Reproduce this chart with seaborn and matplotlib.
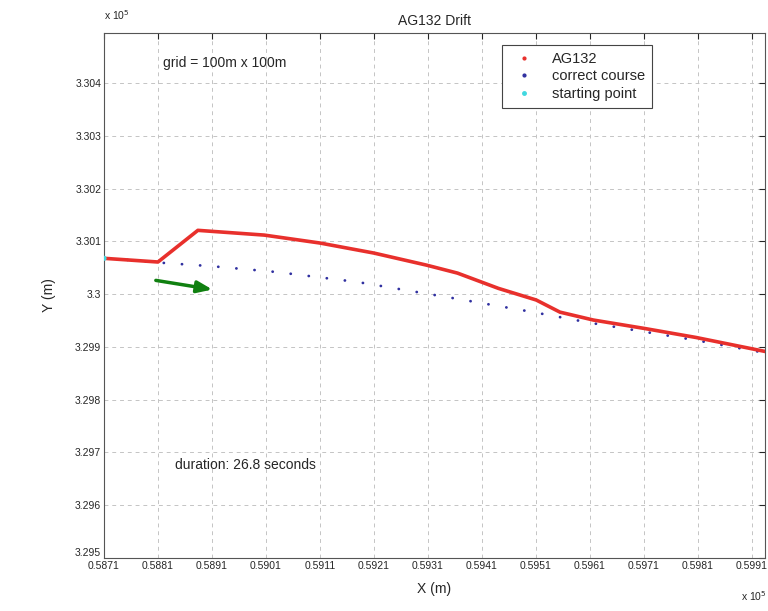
import numpy as np
import pandas as pd
import seaborn as sns
import matplotlib.pyplot as plt
from matplotlib.lines import Line2D

# drift track of AG132 (x10^5 m)
track_x = [0.5871, 0.5881, 0.58884, 0.59007, 0.5911, 0.5921, 0.59308, 0.59365,
           0.59441, 0.59511, 0.59555, 0.59617, 0.59712, 0.59807, 0.59952]
track_y = [3.30068, 3.30061, 3.30121, 3.30112, 3.30097, 3.30078, 3.30055, 3.3004,
           3.30011, 3.29989, 3.29966, 3.29951, 3.29935, 3.29918, 3.29888]

# intended course
course_x = [0.5872, 0.5881, 0.5891, 0.5903, 0.5918, 0.5936, 0.5950, 0.5961,
            0.5971, 0.5980, 0.59945]
course_y = [3.30068, 3.3006, 3.30053, 3.30042, 3.30023, 3.29992, 3.29967,
            3.29946, 3.29929, 3.29914, 3.29887]

start_x = [0.5871]
start_y = [3.30068]

xticks = [0.5871, 0.5881, 0.5891, 0.5901, 0.5911, 0.5921, 0.5931,
          0.5941, 0.5951, 0.5961, 0.5971, 0.5981, 0.5991]
yticks = [3.295, 3.296, 3.297, 3.298, 3.299, 3.3, 3.301, 3.302, 3.303, 3.304]

sns.set_style("white")
plt.rcParams['font.family'] = ['Liberation Sans', 'DejaVu Sans']

fig = plt.figure(figsize=(7.68, 6.11), dpi=100)
ax = fig.add_axes([0.1354, 0.0867, 0.8607, 0.8593])

track = pd.DataFrame({'x': track_x, 'y': track_y})
course = pd.DataFrame({'x': course_x, 'y': course_y})

sns.lineplot(data=course, x='x', y='y', ax=ax, color='#3030a0', lw=2.0,
             sort=False, estimator=None)
ax.lines[-1].set_dashes([0.05, 6.5])
ax.lines[-1].set_dash_capstyle('round')
sns.lineplot(data=track, x='x', y='y', ax=ax, color='#e8302c', lw=2.6,
             sort=False, estimator=None)
sns.scatterplot(x=start_x, y=start_y, ax=ax, color='#40d8e0', s=14,
                edgecolor='none', zorder=5)

ax.annotate('', xy=(0.58916, 3.30008), xytext=(0.58801, 3.30027),
            arrowprops=dict(arrowstyle='-|>,head_length=0.9,head_width=0.35',
                            color='#108010', lw=2.5))

ax.text(0.5882, 3.30438, 'grid = 100m x 100m', fontsize=10, va='center')
ax.text(0.58841, 3.29676, 'duration: 26.8 seconds', fontsize=10, va='center')

ax.set_xlim(0.5871, 0.59935)
ax.set_ylim(3.295, 3.30495)
ax.set_xticks(xticks)
ax.set_yticks(yticks)
ax.set_xticklabels(['%.4f' % v for v in xticks], fontsize=7.5)
ax.set_yticklabels(['%g' % v for v in yticks], fontsize=7.5)
ax.get_yticklabels()[0].set_va('bottom')
ax.tick_params(direction='in', length=4, top=True, right=True, pad=2)
ax.grid(True, color='#c4c4c4', ls=(0, (4, 4)), lw=0.7)
for s in ax.spines.values():
    s.set_color('#555555')
    s.set_linewidth(0.8)

ax.set_title('AG132 Drift', fontsize=10, pad=6)
ax.set_xlabel('X (m)', fontsize=10, labelpad=8)
ax.set_ylabel('Y (m)', fontsize=10, labelpad=14)

fig.text(0.1354, 0.975, r'x 10$^5$', fontsize=7.5, ha='left', va='center')
fig.text(0.998, 0.025, r'x 10$^5$', fontsize=7.5, ha='right', va='center')

handles = [Line2D([], [], ls='none', marker='.', ms=4, color='#e8302c'),
           Line2D([], [], ls='none', marker='.', ms=4, color='#3030a0'),
           Line2D([], [], ls='none', marker='.', ms=5, color='#40d8e0')]
leg = ax.legend(handles, ['AG132', 'correct course', 'starting point'],
                loc='upper left', bbox_to_anchor=(0.595, 0.985), fontsize=10.5,
                fancybox=False, framealpha=1, edgecolor='#444444',
                handlelength=2.2, borderpad=0.45, labelspacing=0.25,
                borderaxespad=0.3)
leg.get_frame().set_linewidth(0.8)

fig.savefig('out.png', dpi=100)
